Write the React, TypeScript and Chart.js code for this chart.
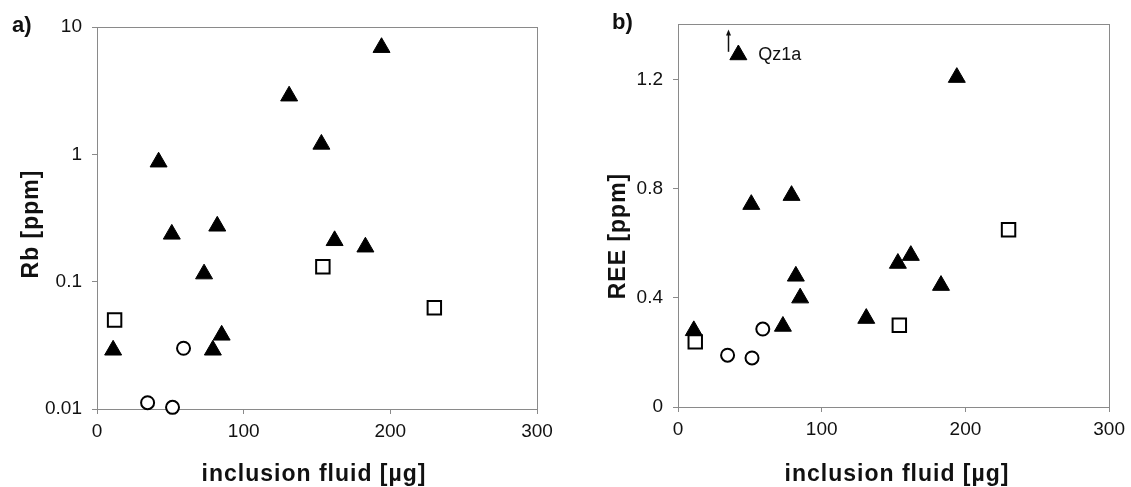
import React, { useEffect, useRef } from 'react';
import { Chart, registerables } from 'chart.js';

Chart.register(...registerables);

// Sample groups: filled triangles, open squares, open circles
const triangleX = [11, 42, 51, 73, 79, 82, 85, 131, 153, 162, 183, 194];
const triangleRb = [0.029, 0.87, 0.236, 0.115, 0.029, 0.273, 0.038, 2.87, 1.2, 0.21, 0.187, 6.9];
const triangleRee = [0.28, 1.292, 0.743, 0.296, 0.776, 0.48, 0.4, 0.325, 0.527, 0.556, 0.446, 1.209];

const squareX = [12, 154, 230];
const squareRb = [0.05, 0.131, 0.0625];
const squareRee = [0.239, 0.3, 0.65];

const circleX = [34.5, 51.5, 59];
const circleRb = [0.0112, 0.0103, 0.03];
const circleRee = [0.19, 0.18, 0.286];

// Axis ticks
const xTicks = [0, 100, 200, 300];
const xTickLabels = ['0', '100', '200', '300'];
const rbTicks = [0.01, 0.1, 1, 10];
const rbTickLabels = ['0.01', '0.1', '1', '10'];
const reeTicks = [0, 0.4, 0.8, 1.2];
const reeTickLabels = ['0', '0.4', '0.8', '1.2'];

const xTitle = 'inclusion fluid [µg]';
const FONT = '"Liberation Sans", Arial, Helvetica, sans-serif';
const AXIS_GRAY = '#8a8a8a';

type Panel = {
  letter: string;
  yTitle: string;
  yType: 'logarithmic' | 'linear';
  yMin: number;
  yMax: number;
  yTicks: number[];
  yTickLabels: string[];
  triY: number[];
  sqY: number[];
  ciY: number[];
  width: number;
  plotLeft: number;
  plotRight: number;
  plotTop: number;
  plotBottom: number;
  yTitleX: number;
  yTitleY: number;
  xTitleX: number;
  letterX: number;
  letterY: number;
  note?: { text: string; x: number; y: number; arrowX: number; arrowFrom: number; arrowTo: number };
};

const HEIGHT = 487;

const panels: Panel[] = [
  {
    letter: 'a)',
    yTitle: 'Rb [ppm]',
    yType: 'logarithmic',
    yMin: 0.01,
    yMax: 10,
    yTicks: rbTicks,
    yTickLabels: rbTickLabels,
    triY: triangleRb,
    sqY: squareRb,
    ciY: circleRb,
    width: 565,
    plotLeft: 97,
    plotRight: 537,
    plotTop: 27,
    plotBottom: 409,
    yTitleX: 32,
    yTitleY: 224,
    xTitleX: 314,
    letterX: 12,
    letterY: 32,
  },
  {
    letter: 'b)',
    yTitle: 'REE [ppm]',
    yType: 'linear',
    yMin: 0,
    yMax: 1.405,
    yTicks: reeTicks,
    yTickLabels: reeTickLabels,
    triY: triangleRee,
    sqY: squareRee,
    ciY: circleRee,
    width: 566,
    plotLeft: 113,
    plotRight: 548,
    plotTop: 24,
    plotBottom: 407,
    yTitleX: 54,
    yTitleY: 236,
    xTitleX: 332,
    letterX: 47,
    letterY: 29,
    note: { text: 'Qz1a', x: 55.9, y: 1.273, arrowX: 34.5, arrowFrom: 1.303, arrowTo: 1.385 },
  },
];

const pts = (xs: number[], ys: number[]) => xs.map((x, i) => ({ x, y: ys[i] }));

function makeDecor(p: Panel) {
  return {
    id: 'decor',
    beforeDatasetsDraw(chart: any) {
      const { ctx, chartArea: a } = chart;
      ctx.save();
      ctx.strokeStyle = AXIS_GRAY;
      ctx.lineWidth = 1;
      ctx.strokeRect(Math.round(a.left) + 0.5, Math.round(a.top) + 0.5, Math.round(a.right - a.left), Math.round(a.bottom - a.top));
      ctx.restore();
    },
    afterDraw(chart: any) {
      const { ctx } = chart;
      ctx.save();
      ctx.fillStyle = '#111';
      (ctx as any).letterSpacing = '1px';
      ctx.font = `bold 23px ${FONT}`;
      ctx.textAlign = 'center';
      ctx.textBaseline = 'alphabetic';
      ctx.fillText(xTitle, p.xTitleX, 481);

      ctx.save();
      ctx.translate(p.yTitleX, p.yTitleY);
      ctx.rotate(-Math.PI / 2);
      ctx.textBaseline = 'middle';
      ctx.fillText(p.yTitle, 0, 0);
      ctx.restore();

      (ctx as any).letterSpacing = '0px';
      ctx.font = `bold 22px ${FONT}`;
      ctx.textAlign = 'left';
      ctx.fillText(p.letter, p.letterX, p.letterY);

      if (p.note) {
        const xs = chart.scales.x;
        const ys = chart.scales.y;
        ctx.font = `18px ${FONT}`;
        ctx.fillStyle = '#111';
        ctx.fillText(p.note.text, xs.getPixelForValue(p.note.x), ys.getPixelForValue(p.note.y));
        const ax = Math.round(xs.getPixelForValue(p.note.arrowX)) + 0.5;
        const y0 = ys.getPixelForValue(p.note.arrowFrom);
        const y1 = ys.getPixelForValue(p.note.arrowTo);
        ctx.strokeStyle = '#111';
        ctx.lineWidth = 1.5;
        ctx.beginPath();
        ctx.moveTo(ax, y0);
        ctx.lineTo(ax, y1 + 4);
        ctx.stroke();
        ctx.beginPath();
        ctx.moveTo(ax, y1);
        ctx.lineTo(ax - 2.5, y1 + 6);
        ctx.lineTo(ax + 2.5, y1 + 6);
        ctx.closePath();
        ctx.fill();
      }
      ctx.restore();
    },
  };
}

function buildConfig(p: Panel): any {
  const tickFont = { family: FONT, size: 19 };
  const grid = { drawOnChartArea: false, drawTicks: true, tickLength: 5, color: AXIS_GRAY };
  const border = { display: true, color: AXIS_GRAY, width: 1 };
  return {
    type: 'scatter',
    data: {
      datasets: [
        {
          label: 'squares',
          data: pts(squareX, p.sqY),
          pointStyle: 'rect',
          radius: 9.5,
          backgroundColor: '#fff',
          borderColor: '#000',
          borderWidth: 2,
          clip: false,
        },
        {
          label: 'circles',
          data: pts(circleX, p.ciY),
          pointStyle: 'circle',
          radius: 6.5,
          backgroundColor: '#fff',
          borderColor: '#000',
          borderWidth: 2,
          clip: false,
        },
        {
          label: 'triangles',
          data: pts(triangleX, p.triY),
          pointStyle: 'triangle',
          radius: 9.8,
          backgroundColor: '#000',
          borderColor: '#000',
          borderWidth: 1,
          clip: false,
        },
      ],
    },
    options: {
      animation: false,
      responsive: false,
      events: [],
      layout: {
        padding: { left: 0, top: p.plotTop, right: p.width - p.plotRight, bottom: 0 },
      },
      plugins: { legend: { display: false }, tooltip: { enabled: false }, title: { display: false } },
      scales: {
        x: {
          type: 'linear',
          min: 0,
          max: 300,
          afterBuildTicks: (s: any) => {
            s.ticks = xTicks.map((v) => ({ value: v }));
          },
          afterFit: (s: any) => {
            s.height = HEIGHT - p.plotBottom;
          },
          ticks: {
            font: tickFont,
            color: '#111',
            padding: 6,
            maxRotation: 0,
            callback: (_v: any, i: number) => xTickLabels[i],
          },
          grid,
          border,
        },
        y: {
          type: p.yType,
          min: p.yMin,
          max: p.yMax,
          afterBuildTicks: (s: any) => {
            s.ticks = p.yTicks.map((v) => ({ value: v }));
          },
          afterFit: (s: any) => {
            s.width = p.plotLeft;
          },
          ticks: {
            font: tickFont,
            color: '#111',
            padding: 10,
            callback: (_v: any, i: number) => p.yTickLabels[i],
          },
          grid,
          border,
        },
      },
    },
    plugins: [makeDecor(p)],
  };
}

function PanelChart({ p, left }: { p: Panel; left: number }) {
  const ref = useRef<HTMLCanvasElement | null>(null);
  useEffect(() => {
    if (!ref.current) return;
    const chart = new Chart(ref.current, buildConfig(p));
    return () => chart.destroy();
  }, [p]);
  return (
    <canvas
      ref={ref}
      width={p.width}
      height={HEIGHT}
      style={{ position: 'absolute', left, top: 0, width: p.width, height: HEIGHT }}
    />
  );
}

export default function App() {
  return (
    <div style={{ position: 'absolute', left: 0, top: 0, width: 1131, height: HEIGHT, background: '#fff', overflow: 'hidden' }}>
      <PanelChart p={panels[0]} left={0} />
      <PanelChart p={panels[1]} left={565} />
    </div>
  );
}
